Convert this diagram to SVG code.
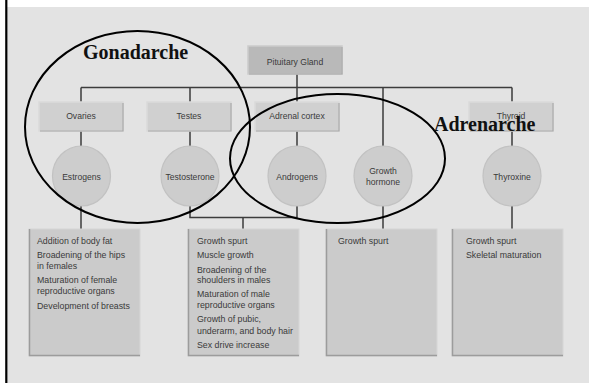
<svg xmlns="http://www.w3.org/2000/svg" width="589" height="383" viewBox="0 0 589 383">
<style>
.bg{fill:#e3e3e3}
.box{fill:#d0d0d0;stroke:#dadada;stroke-width:1.5}
.boxsh{fill:none;stroke:#a8a8a8;stroke-width:1.2}
.pit{fill:#b9b9b9;stroke:#cbcbcb;stroke-width:1.5}
.circ{fill:#cdcdcd;stroke:#c2c2c2;stroke-width:1.2}
.list{fill:#cbcbcb;stroke:#d6d6d6;stroke-width:1}
.listsh{fill:none;stroke:#9c9c9c;stroke-width:1.5}
.lbl{font-family:"Liberation Sans",Arial,sans-serif;font-size:8.6px;fill:#3a3a3a;text-anchor:middle}
.itm{font-family:"Liberation Sans",Arial,sans-serif;font-size:8.8px;fill:#3a3a3a}
.big{font-family:"Liberation Serif","Times New Roman",serif;font-size:20px;font-weight:bold;fill:#111}
.conn{fill:none;stroke:#3c3c3c;stroke-width:1.5}
.ell{fill:none;stroke:#000;stroke-width:2}
</style>
<rect x="0" y="0" width="589" height="383" fill="#ffffff"/>
<rect class="bg" x="6" y="7" width="583" height="376"/>
<line x1="6.3" y1="0" x2="6.3" y2="383" stroke="#000" stroke-width="2.2"/>

<g id="connectors">
<path class="conn" d="M297 74V87.5M81 87.5H512M81 87.5V102M190 87.5V102M297 87.5V102M383 87.5V146M512 87.5V102"/>
<path class="conn" d="M81 131V146M190 131V146M297 131V146M512 131V146"/>
<path class="conn" d="M81 206V229M190 206V217.5H297V206M243 217.5V229M383 206V229M512 206V229"/>
</g>

<g id="pituitary">
<rect class="pit" x="248" y="46" width="94" height="28"/>
<path class="boxsh" d="M249 74H342V47"/>
<text class="lbl" x="295" y="64.5">Pituitary Gland</text>
</g>

<g id="ovaries">
<rect class="box" x="39" y="102" width="84" height="29"/>
<path class="boxsh" d="M40 131H123V103"/>
<text class="lbl" x="81" y="119">Ovaries</text>
</g>
<g id="testes">
<rect class="box" x="147" y="102" width="84" height="29"/>
<path class="boxsh" d="M148 131H231V103"/>
<text class="lbl" x="189" y="119">Testes</text>
</g>
<g id="adrenal">
<rect class="box" x="255" y="102" width="84" height="29"/>
<path class="boxsh" d="M256 131H339V103"/>
<text class="lbl" x="297" y="119">Adrenal cortex</text>
</g>
<g id="thyroid">
<rect class="box" x="469" y="102" width="84" height="29"/>
<path class="boxsh" d="M470 131H553V103"/>
<text class="lbl" x="511" y="119">Thyroid</text>
</g>

<g id="estrogens">
<ellipse class="circ" cx="81.5" cy="176" rx="29" ry="30"/>
<text class="lbl" x="81.5" y="179.5">Estrogens</text>
</g>
<g id="testosterone">
<ellipse class="circ" cx="190" cy="176" rx="29" ry="30"/>
<text class="lbl" x="190" y="179.5">Testosterone</text>
</g>
<g id="androgens">
<ellipse class="circ" cx="297" cy="176" rx="29" ry="30"/>
<text class="lbl" x="297" y="179.5">Androgens</text>
</g>
<g id="growth-hormone">
<ellipse class="circ" cx="383" cy="176" rx="29" ry="30"/>
<text class="lbl" x="383" y="174">Growth</text>
<text class="lbl" x="383" y="185">hormone</text>
</g>
<g id="thyroxine">
<ellipse class="circ" cx="512" cy="176" rx="29" ry="30"/>
<text class="lbl" x="512" y="179.5">Thyroxine</text>
</g>

<g id="list-estrogens">
<rect class="list" x="29" y="229" width="111" height="127"/>
<path class="listsh" d="M29.5 229V355.5H140"/>
<text class="itm" x="37" y="244">Addition of body fat</text>
<text class="itm" x="37" y="258">Broadening of the hips</text>
<text class="itm" x="37" y="269">in females</text>
<text class="itm" x="37" y="283">Maturation of female</text>
<text class="itm" x="37" y="294">reproductive organs</text>
<text class="itm" x="37" y="309">Development of breasts</text>
</g>
<g id="list-testosterone">
<rect class="list" x="188" y="229" width="111" height="127"/>
<path class="listsh" d="M188.5 229V355.5H299"/>
<text class="itm" x="197" y="244">Growth spurt</text>
<text class="itm" x="197" y="258">Muscle growth</text>
<text class="itm" x="197" y="272.5">Broadening of the</text>
<text class="itm" x="197" y="283">shoulders in males</text>
<text class="itm" x="197" y="297">Maturation of male</text>
<text class="itm" x="197" y="308">reproductive organs</text>
<text class="itm" x="197" y="321.5">Growth of pubic,</text>
<text class="itm" x="197" y="334">underarm, and body hair</text>
<text class="itm" x="197" y="347.5">Sex drive increase</text>
</g>
<g id="list-growth">
<rect class="list" x="326" y="229" width="111" height="127"/>
<path class="listsh" d="M326.5 229V355.5H437"/>
<text class="itm" x="338" y="244">Growth spurt</text>
</g>
<g id="list-thyroxine">
<rect class="list" x="452" y="229" width="111" height="127"/>
<path class="listsh" d="M452.5 229V355.5H563"/>
<text class="itm" x="466" y="244">Growth spurt</text>
<text class="itm" x="466" y="257.5">Skeletal maturation</text>
</g>

<g id="gonadarche">
<ellipse class="ell" cx="137.5" cy="127" rx="112.5" ry="96"/>
<text class="big" x="83" y="59">Gonadarche</text>
</g>
<g id="adrenarche">
<ellipse class="ell" cx="337.5" cy="158.5" rx="107.5" ry="64.5"/>
<text class="big" x="434" y="131">Adrenarche</text>
</g>
</svg>
